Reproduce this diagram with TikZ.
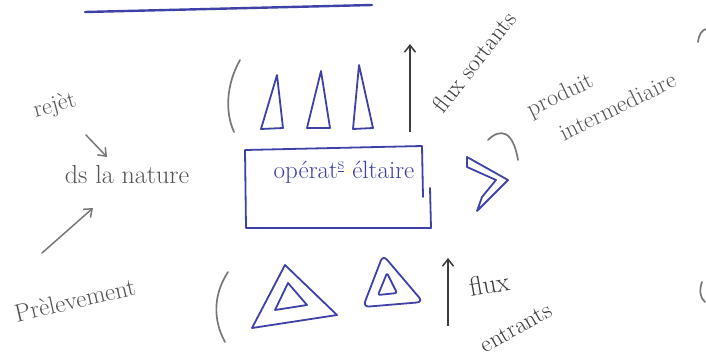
\documentclass[tikz,border=0pt]{standalone}
\usetikzlibrary{arrows.meta}
\definecolor{ink}{RGB}{62,66,168}
\definecolor{pencil}{RGB}{120,120,120}
\definecolor{dark}{RGB}{60,60,60}
\begin{document}
\begin{tikzpicture}[x=1pt,y=-1pt,
  inkline/.style={draw=ink, line width=1.8pt, line join=round, line cap=round},
  pencilline/.style={draw=pencil, line width=1.7pt, line cap=round},
  hand/.style={text=dark, inner sep=0pt, font=\fontsize{24}{26}\selectfont},
  handgray/.style={text=pencil!70!black, inner sep=0pt, font=\fontsize{24}{26}\selectfont},
  barb/.style={-{Straight Barb[length=7pt,width=11pt]}, line width=1.5pt}]
\useasboundingbox[fill=white] (0,0) rectangle (706,360);

% top underline
\draw[inkline, line width=2.4pt] (85,12) -- (372,5);
% edge marks
\draw[pencilline] (698,42) .. controls (699,34) and (702,30) .. (706,29);
\draw[pencilline] (702,282) .. controls (699,290) and (700,298) .. (705,302);

% left labels
\node[handgray, rotate=15] (rejet) at (55,106) {rejèt};
\node[handgray, font=\fontsize{26}{28}\selectfont] (nature) at (127,175) {ds la nature};
\node[handgray, rotate=13, font=\fontsize{25}{26}\selectfont] (prel) at (75,300) {Prèlevement};
\coordinate (ra) at (86,135);
\coordinate (rb) at (107,157);
\draw[pencilline, barb] (ra) -- (rb);
\coordinate (pa) at (42,253);
\coordinate (pb) at (93,208);
\draw[pencilline, barb] (pa) -- (pb);

% top group
\draw[pencilline] (240,60) .. controls (226,85) and (225,112) .. (234,132);
\draw[inkline] (277,75) -- (261,129) -- (283,128) -- cycle;
\draw[inkline] (321,71) -- (307,128) -- (330,128) -- cycle;
\draw[inkline] (359,65) -- (353,129) -- (373,128) -- cycle;
\coordinate (fsb) at (410,132);
\coordinate (fst) at (410,44);
\draw[barb, draw=dark] (fsb) -- (fst);
\node[hand, rotate=52] (fsort) at (474,62) {flux sortants};

% box
\draw[inkline] (423,197) -- (422,146) -- (245,150) -- (246,228) -- (431,228) -- (430,188);
\coordinate (boxc) at (337,188);
\node[text=ink, inner sep=0pt, font=\fontsize{25}{26}\selectfont] (op) at (344,172) {opérat\textsuperscript{\underline{s}} éltaire};

% chevron
\draw[inkline] (467,157) -- (508,180) -- (477,211) -- (482,197) -- (496,180) -- (467,167) -- cycle;
\draw[pencilline] (488,140) .. controls (500,128) and (513,130) .. (518,160);

% right label
\node[handgray, rotate=26, align=left, font=\fontsize{24}{36}\selectfont] (prod) at (601,94) {produit\\\hspace*{0.8em}intermediaire};

% bottom group
\draw[pencilline] (228,272) .. controls (213,295) and (213,320) .. (225,342);
\draw[inkline] (285,265) -- (252,328) -- (337,315) -- cycle;
\draw[inkline] (288,283) -- (275,310) -- (307,305) -- cycle;
\draw[inkline, rounded corners=6pt] (383,255) -- (363,307) -- (423,302) -- cycle;
\draw[inkline, rounded corners=2pt] (387,273) -- (378,295) -- (397,293) -- cycle;
\coordinate (feb) at (448,326);
\coordinate (fet) at (448,258);
\draw[barb, draw=dark] (feb) -- (fet);
\node[hand, rotate=10, font=\fontsize{27}{28}\selectfont] (flux) at (489,284) {flux};
\node[hand, rotate=30] (entr) at (516,328) {entrants};
\end{tikzpicture}
\end{document}
